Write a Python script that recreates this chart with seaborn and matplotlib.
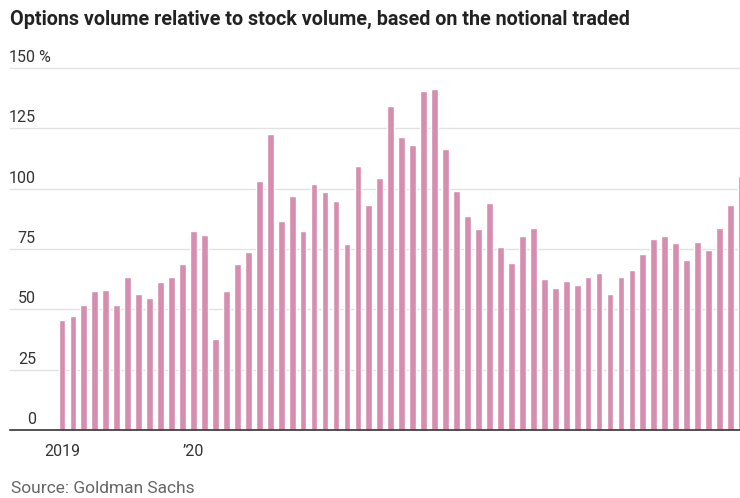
import matplotlib
matplotlib.use("Agg")
import matplotlib.pyplot as plt
import seaborn as sns
import pandas as pd

months = pd.date_range("2019-01-01", "2024-03-01", freq="MS").strftime("%Y-%m").tolist()
values = [
    45.6, 47.2, 51.8, 57.4, 58.1, 51.8, 63.6, 56.3, 54.6, 61.4, 63.6, 68.6,
    82.5, 80.8, 37.8, 57.4, 68.6, 73.6, 103.2, 122.8, 86.4, 97.1, 82.5, 102.1,
    98.8, 94.9, 76.9, 109.3, 93.2, 104.3, 134.4, 121.5, 118.3, 140.6, 141.1, 116.5,
    99.2, 88.6, 83.1, 94.2, 75.7, 69.0, 80.3, 83.6, 62.4, 59.0, 61.8, 60.1,
    63.5, 65.1, 56.3, 63.5, 66.4, 73.1, 79.2, 80.3, 77.5, 70.3, 78.1, 74.7,
    83.6, 93.2, 105.4,
]
ytick_vals = [0, 25, 50, 75, 100, 125, 150]
ytick_labels = ["0", "25", "50", "75", "100", "125", "150"]
xtick_labels = ["2019", "\u201920", "", "", "", ""]

df = pd.DataFrame({"month": months, "value": values})

sns.set_theme(style="white")
plt.rcParams["font.family"] = ["Roboto", "DejaVu Sans"]

W, H = 740, 498
fig = plt.figure(figsize=(W / 100, H / 100), dpi=100)
ax = fig.add_axes([10 / W, (H - 430) / H, 730 / W, (430 - 68) / H])

sns.barplot(data=df, x="month", y="value", color="#d68db0", saturation=1,
            width=0.62, ax=ax, zorder=2)

ax.set_xlim(-4.74, 61.86)
ax.set_ylim(0, 150)
for s in ["top", "right", "left"]:
    ax.spines[s].set_visible(False)
ax.spines["bottom"].set_color("#333333")
ax.spines["bottom"].set_linewidth(1.2)
ax.spines["bottom"].set_zorder(3)

for v in ytick_vals[1:]:
    ax.axhline(v, color="#e2e2e2", lw=1.0, zorder=1, clip_on=False)

ax.set_yticks([])
ax.set_xticks([0, 12, 24, 36, 48, 60])
ax.set_xticklabels(xtick_labels, fontsize=11.5, color="#333333")
ax.tick_params(axis="x", length=4, width=1.2, color="#333333", pad=6)
ax.set_xlabel("")
ax.set_ylabel("")

# y labels: right-aligned numbers above gridlines
for v, lab in zip(ytick_vals, ytick_labels):
    y = (430 - v * (362 / 150))
    fig.text(36 / W, (H - y + 3) / H, lab, ha="right", va="bottom",
             fontsize=11.5, color="#333333")
fig.text(38.5 / W, (H - 68 + 3) / H, "%", ha="left", va="bottom",
         fontsize=11.5, color="#333333")

fig.text(10 / W, (H - 25) / H, "Options volume relative to stock volume, based on the notional traded",
         ha="left", va="baseline", fontsize=14.2, fontweight="bold",
         color="#222222")

fig.text(11 / W, (H - 493) / H, "Source: Goldman Sachs", ha="left", va="baseline",
         fontsize=12.5, color="#666666")

fig.savefig("out.png", dpi=100)
